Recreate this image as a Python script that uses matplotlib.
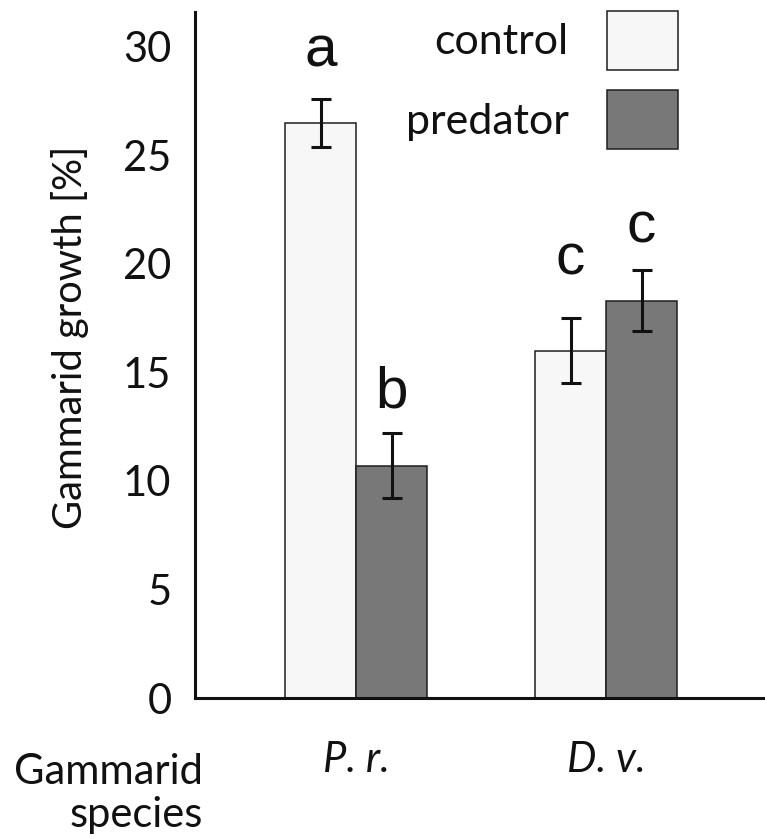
import matplotlib
matplotlib.use("Agg")
import matplotlib.pyplot as plt
import numpy as np

# ---- data ----
species = ["P. r.", "D. v."]
treatments = ["control", "predator"]
control_mean = [26.5, 16.0]
control_err = [1.1, 1.5]
predator_mean = [10.7, 18.3]
predator_err = [1.5, 1.4]
letters_control = ["a", "c"]
letters_predator = ["b", "c"]
letter_y_control = [29.1, 19.5]
letter_y_predator = [13.4, 21.0]
yticks = [0, 5, 10, 15, 20, 25, 30]

FONT = ["Lato", "DejaVu Sans"]
plt.rcParams["font.family"] = FONT

W, H = 765, 839
fig = plt.figure(figsize=(W / 100, H / 100), dpi=100)
ax = fig.add_axes([195 / W, (H - 698) / H, 570 / W, (698 - 12) / H])

x = np.arange(len(species))
bw = 0.284
c_ctrl = "#f7f7f7"
c_pred = "#787878"
edge = "#1e1e1e"

ax.bar(x - bw / 2, control_mean, bw, color=c_ctrl, edgecolor=edge, linewidth=1.1,
       label=treatments[0], zorder=2)
ax.bar(x + bw / 2, predator_mean, bw, color=c_pred, edgecolor=edge, linewidth=1.1,
       label=treatments[1], zorder=2)
ax.errorbar(x - bw / 2, control_mean, yerr=control_err, fmt="none", ecolor="#111111",
            elinewidth=2.2, capsize=7.5, capthick=2.2, zorder=3)
ax.errorbar(x + bw / 2, predator_mean, yerr=predator_err, fmt="none", ecolor="#111111",
            elinewidth=2.2, capsize=7.5, capthick=2.2, zorder=3)

for i in range(len(species)):
    ax.text(x[i] - bw / 2, letter_y_control[i], letters_control[i], ha="center",
            va="baseline", fontsize=42, family=["Liberation Sans"], color="#111111")
    ax.text(x[i] + bw / 2, letter_y_predator[i], letters_predator[i], ha="center",
            va="baseline", fontsize=42, family=["Liberation Sans"], color="#111111")

ax.set_xlim(-0.644, 1.636)
ax.set_ylim(0, 31.6)
ax.set_yticks(yticks)
ax.set_yticklabels([str(t) for t in yticks], fontsize=30, color="#111111")
ax.set_xticks(x)
ax.set_xticklabels(species, fontsize=30, style="italic", color="#111111")
ax.tick_params(axis="both", length=0)
ax.tick_params(axis="y", pad=17)
ax.tick_params(axis="x", pad=31)

for s in ["top", "right"]:
    ax.spines[s].set_visible(False)
for s in ["left", "bottom"]:
    ax.spines[s].set_linewidth(2.2)
    ax.spines[s].set_color("#111111")

ax.set_ylabel("Gammarid growth [%]", fontsize=28.7, color="#111111")
ax.yaxis.set_label_coords(-0.186, 0.526)

fig.text(203 / W, 1 - 827 / H, "Gammarid\nspecies", ha="right", va="baseline",
         multialignment="right", fontsize=30, color="#111111", linespacing=1.17)

leg = ax.legend(loc="upper right", bbox_to_anchor=(678 / W, 1 - 11 / H),
                bbox_transform=fig.transFigure, frameon=False, markerfirst=False,
                fontsize=31, handlelength=1.64, handleheight=1.73,
                labelspacing=0.47, handletextpad=0.9, borderpad=0, borderaxespad=0)
for t in leg.get_texts():
    t.set_color("#111111")

fig.savefig("out.png", dpi=100)
